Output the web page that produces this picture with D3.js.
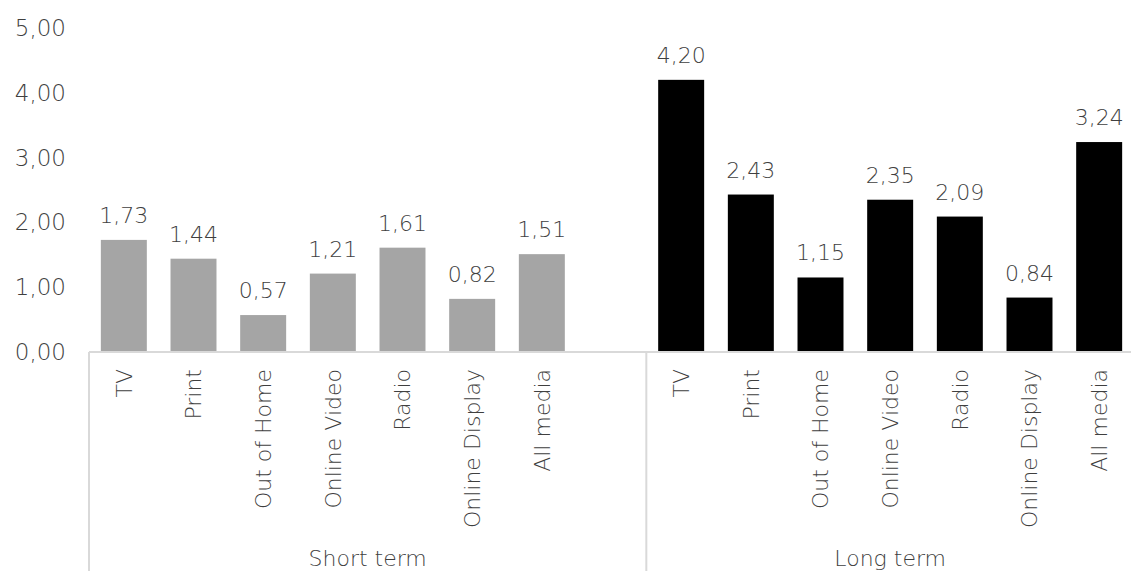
<!DOCTYPE html>
<html>
<head>
<meta charset="utf-8">
<script src="https://cdnjs.cloudflare.com/ajax/libs/d3/7.8.5/d3.min.js"></script>
<style>
  body { margin: 0; background: #fff; }
  text { font-family: "DejaVu Sans", sans-serif; font-weight: 200; fill: #3f3f3f; }
</style>
</head>
<body>
<div id="chart"></div>
<script>
// media channels, same order in both groups
var media = ["TV", "Print", "Out of Home", "Online Video", "Radio", "Online Display", "All media"];
var groups = ["Short term", "Long term"];
var shortTerm = [1.73, 1.44, 0.57, 1.21, 1.61, 0.82, 1.51];
var longTerm = [4.20, 2.43, 1.15, 2.35, 2.09, 0.84, 3.24];
var yTicks = [0, 1, 2, 3, 4, 5];

var width = 1131, height = 571;
var margin = {top: 28, left: 89, bottom: 219};
var baseY = height - margin.bottom;

var svg = d3.select("#chart")
    .append("svg")
    .attr("width", width)
    .attr("height", height);

// 15 slots: 7 short term + 1 empty + 7 long term
var slots = [];
media.forEach(function(m, i) { slots.push({key: "s" + i, name: m, value: shortTerm[i], group: 0}); });
slots.push({key: "gap", name: "", value: null, group: 0});
media.forEach(function(m, i) { slots.push({key: "l" + i, name: m, value: longTerm[i], group: 1}); });

var x = d3.scaleBand()
    .domain(slots.map(function(d) { return d.key; }))
    .range([margin.left, 1134])
    .paddingInner(0.34)
    .paddingOuter(0.17);

var y = d3.scaleLinear()
    .domain([0, 5])
    .range([baseY, margin.top]);

var fmt = function(v) { return d3.format(".2f")(v).replace(".", ","); };

// y axis labels (no line)
svg.append("g")
    .selectAll("text")
    .data(yTicks)
    .enter()
    .append("text")
    .attr("x", 66)
    .attr("y", function(d) { return y(d); })
    .attr("dy", "0.35em")
    .attr("text-anchor", "end")
    .style("font-size", "23px")
    .text(fmt);

var bars = slots.filter(function(d) { return d.value !== null; });

svg.selectAll("rect.bar")
    .data(bars)
    .enter()
    .append("rect")
    .attr("class", "bar")
    .attr("x", function(d) { return x(d.key); })
    .attr("y", function(d) { return y(d.value); })
    .attr("width", x.bandwidth())
    .attr("height", function(d) { return baseY - y(d.value); })
    .style("fill", function(d) { return d.group === 0 ? "#a5a5a5" : "#000000"; });

svg.selectAll("text.value")
    .data(bars)
    .enter()
    .append("text")
    .attr("class", "value")
    .attr("x", function(d) { return x(d.key) + x.bandwidth() / 2; })
    .attr("y", function(d) { return y(d.value) - 17; })
    .attr("text-anchor", "middle")
    .style("font-size", "22px")
    .text(function(d) { return fmt(d.value); });

// baseline axis
svg.append("line")
    .attr("x1", margin.left).attr("x2", width)
    .attr("y1", baseY).attr("y2", baseY)
    .style("stroke", "#d9d9d9").style("stroke-width", 2);

// group separators
var step = x.step();
var sepX = [margin.left, margin.left + step * 8];
svg.selectAll("line.sep")
    .data(sepX)
    .enter()
    .append("line")
    .attr("x1", function(d) { return d; }).attr("x2", function(d) { return d; })
    .attr("y1", baseY).attr("y2", height)
    .style("stroke", "#d9d9d9").style("stroke-width", 2);

// category labels
svg.selectAll("text.cat")
    .data(bars)
    .enter()
    .append("text")
    .attr("class", "cat")
    .attr("transform", function(d) {
        return "translate(" + (x(d.key) + x.bandwidth() / 2) + "," + (baseY + 17) + ") rotate(-90)";
    })
    .attr("dy", "0.35em")
    .attr("text-anchor", "end")
    .style("font-size", "22px")
    .text(function(d) { return d.name; });

// group labels
var groupCenters = [(margin.left + sepX[1]) / 2, (sepX[1] + margin.left + step * 15) / 2];
svg.selectAll("text.grp")
    .data(groups)
    .enter()
    .append("text")
    .attr("class", "grp")
    .attr("x", function(d, i) { return groupCenters[i]; })
    .attr("y", 566)
    .attr("text-anchor", "middle")
    .style("font-size", "22px")
    .text(function(d) { return d; });
</script>
</body>
</html>
